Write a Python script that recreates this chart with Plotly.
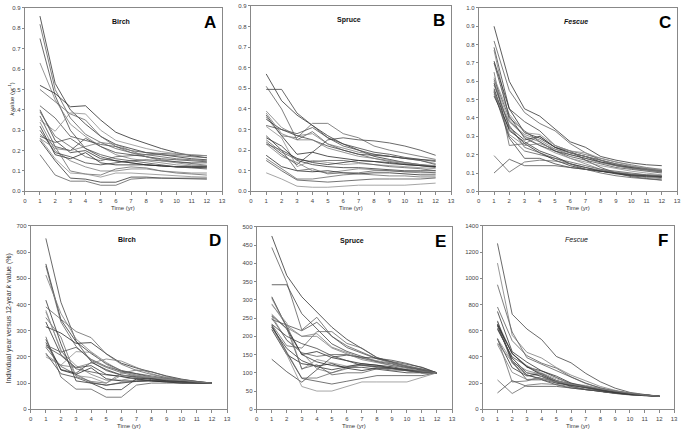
import plotly.graph_objects as go

W, H = 685, 434
YEARS = list(range(1, 13))

BIRCH_K = [
    [0.86, 0.53, 0.40, 0.33, 0.27, 0.23, 0.21, 0.19, 0.18, 0.17, 0.16, 0.155],
    [0.82, 0.50, 0.36, 0.28, 0.24, 0.21, 0.19, 0.18, 0.17, 0.16, 0.155, 0.15],
    [0.75, 0.47, 0.30, 0.21, 0.17, 0.15, 0.14, 0.13, 0.125, 0.12, 0.118, 0.115],
    [0.63, 0.45, 0.33, 0.27, 0.22, 0.18, 0.16, 0.15, 0.14, 0.13, 0.125, 0.123],
    [0.52, 0.48, 0.415, 0.42, 0.35, 0.29, 0.26, 0.235, 0.21, 0.19, 0.175, 0.165],
    [0.50, 0.44, 0.38, 0.35, 0.27, 0.22, 0.19, 0.17, 0.155, 0.145, 0.135, 0.128],
    [0.42, 0.36, 0.27, 0.25, 0.23, 0.22, 0.20, 0.19, 0.185, 0.18, 0.178, 0.175],
    [0.35, 0.295, 0.385, 0.38, 0.30, 0.25, 0.23, 0.21, 0.195, 0.185, 0.18, 0.175],
    [0.40, 0.25, 0.19, 0.20, 0.16, 0.15, 0.14, 0.13, 0.125, 0.12, 0.12, 0.12],
    [0.39, 0.27, 0.22, 0.17, 0.15, 0.17, 0.175, 0.18, 0.18, 0.175, 0.17, 0.165],
    [0.37, 0.22, 0.20, 0.26, 0.22, 0.19, 0.18, 0.17, 0.16, 0.155, 0.15, 0.145],
    [0.34, 0.20, 0.15, 0.12, 0.10, 0.10, 0.11, 0.11, 0.10, 0.095, 0.09, 0.09],
    [0.32, 0.18, 0.16, 0.19, 0.14, 0.13, 0.13, 0.13, 0.125, 0.12, 0.12, 0.12],
    [0.28, 0.22, 0.10, 0.085, 0.08, 0.11, 0.12, 0.115, 0.10, 0.09, 0.085, 0.08],
    [0.27, 0.24, 0.26, 0.21, 0.18, 0.16, 0.15, 0.14, 0.13, 0.12, 0.115, 0.11],
    [0.26, 0.16, 0.09, 0.085, 0.07, 0.09, 0.09, 0.085, 0.08, 0.075, 0.072, 0.07],
    [0.25, 0.15, 0.065, 0.06, 0.045, 0.045, 0.07, 0.07, 0.065, 0.063, 0.062, 0.06],
    [0.18, 0.08, 0.05, 0.05, 0.03, 0.03, 0.06, 0.065, 0.065, 0.065, 0.065, 0.065],
    [0.30, 0.19, 0.17, 0.14, 0.13, 0.14, 0.15, 0.155, 0.15, 0.145, 0.14, 0.14],
    [0.26, 0.21, 0.20, 0.22, 0.24, 0.23, 0.20, 0.17, 0.15, 0.14, 0.13, 0.125],
]

SPRUCE_K = [
    [0.57, 0.44, 0.37, 0.32, 0.27, 0.23, 0.20, 0.17, 0.155, 0.14, 0.13, 0.12],
    [0.51, 0.40, 0.25, 0.29, 0.23, 0.20, 0.18, 0.16, 0.145, 0.135, 0.125, 0.115],
    [0.495, 0.495, 0.38, 0.32, 0.26, 0.23, 0.21, 0.19, 0.18, 0.165, 0.155, 0.145],
    [0.39, 0.31, 0.27, 0.28, 0.23, 0.21, 0.19, 0.18, 0.17, 0.16, 0.15, 0.135],
    [0.37, 0.27, 0.18, 0.19, 0.17, 0.16, 0.15, 0.145, 0.14, 0.13, 0.125, 0.12],
    [0.36, 0.27, 0.26, 0.33, 0.33, 0.28, 0.26, 0.22, 0.20, 0.185, 0.17, 0.155],
    [0.32, 0.30, 0.28, 0.31, 0.26, 0.22, 0.20, 0.18, 0.17, 0.16, 0.15, 0.13],
    [0.315, 0.26, 0.12, 0.15, 0.14, 0.13, 0.135, 0.13, 0.125, 0.12, 0.115, 0.11],
    [0.26, 0.22, 0.15, 0.13, 0.12, 0.115, 0.115, 0.11, 0.105, 0.10, 0.10, 0.10],
    [0.25, 0.19, 0.155, 0.145, 0.15, 0.15, 0.14, 0.13, 0.12, 0.115, 0.11, 0.10],
    [0.24, 0.18, 0.13, 0.19, 0.25, 0.26, 0.25, 0.245, 0.235, 0.22, 0.20, 0.175],
    [0.23, 0.17, 0.14, 0.10, 0.09, 0.10, 0.11, 0.105, 0.10, 0.095, 0.09, 0.09],
    [0.175, 0.12, 0.10, 0.095, 0.10, 0.09, 0.085, 0.09, 0.09, 0.085, 0.08, 0.08],
    [0.16, 0.11, 0.06, 0.06, 0.07, 0.08, 0.085, 0.08, 0.075, 0.075, 0.07, 0.07],
    [0.15, 0.10, 0.055, 0.05, 0.045, 0.05, 0.055, 0.06, 0.06, 0.06, 0.06, 0.065],
    [0.09, 0.06, 0.025, 0.02, 0.02, 0.025, 0.03, 0.03, 0.03, 0.03, 0.035, 0.04],
    [0.27, 0.20, 0.16, 0.14, 0.13, 0.14, 0.15, 0.145, 0.135, 0.13, 0.125, 0.12],
    [0.23, 0.20, 0.10, 0.11, 0.085, 0.09, 0.09, 0.10, 0.10, 0.095, 0.095, 0.09],
    [0.35, 0.30, 0.27, 0.25, 0.22, 0.20, 0.18, 0.175, 0.17, 0.16, 0.155, 0.15],
    [0.38, 0.28, 0.25, 0.25, 0.21, 0.19, 0.17, 0.16, 0.15, 0.14, 0.13, 0.125],
]

FESCUE_K = [
    [0.90, 0.60, 0.45, 0.41, 0.34, 0.27, 0.24, 0.19, 0.17, 0.155, 0.145, 0.14],
    [0.82, 0.55, 0.43, 0.37, 0.33, 0.26, 0.21, 0.17, 0.14, 0.125, 0.115, 0.105],
    [0.785, 0.45, 0.38, 0.33, 0.25, 0.22, 0.17, 0.13, 0.10, 0.08, 0.07, 0.062],
    [0.77, 0.39, 0.30, 0.27, 0.22, 0.18, 0.15, 0.12, 0.10, 0.085, 0.075, 0.069],
    [0.71, 0.45, 0.32, 0.29, 0.24, 0.21, 0.19, 0.17, 0.15, 0.135, 0.125, 0.115],
    [0.65, 0.25, 0.26, 0.30, 0.24, 0.22, 0.20, 0.18, 0.16, 0.145, 0.13, 0.12],
    [0.61, 0.40, 0.33, 0.27, 0.22, 0.19, 0.17, 0.15, 0.13, 0.12, 0.11, 0.10],
    [0.60, 0.38, 0.30, 0.25, 0.21, 0.18, 0.16, 0.14, 0.125, 0.11, 0.10, 0.09],
    [0.59, 0.35, 0.28, 0.30, 0.24, 0.21, 0.19, 0.16, 0.14, 0.13, 0.12, 0.11],
    [0.55, 0.30, 0.22, 0.20, 0.18, 0.16, 0.14, 0.12, 0.11, 0.10, 0.09, 0.085],
    [0.54, 0.29, 0.18, 0.18, 0.15, 0.13, 0.12, 0.11, 0.10, 0.09, 0.085, 0.08],
    [0.53, 0.38, 0.31, 0.28, 0.23, 0.20, 0.18, 0.155, 0.14, 0.125, 0.115, 0.105],
    [0.52, 0.34, 0.26, 0.21, 0.17, 0.14, 0.12, 0.11, 0.10, 0.09, 0.085, 0.08],
    [0.195, 0.105, 0.16, 0.17, 0.165, 0.15, 0.13, 0.115, 0.105, 0.095, 0.09, 0.087],
    [0.10, 0.175, 0.14, 0.14, 0.14, 0.13, 0.12, 0.11, 0.10, 0.09, 0.085, 0.08],
    [0.62, 0.42, 0.32, 0.31, 0.25, 0.22, 0.21, 0.18, 0.16, 0.14, 0.125, 0.115],
    [0.56, 0.33, 0.27, 0.22, 0.19, 0.15, 0.13, 0.11, 0.095, 0.085, 0.08, 0.075],
    [0.58, 0.36, 0.24, 0.21, 0.18, 0.15, 0.12, 0.10, 0.085, 0.075, 0.066, 0.061],
    [0.70, 0.41, 0.29, 0.25, 0.22, 0.20, 0.18, 0.16, 0.145, 0.13, 0.12, 0.11],
    [0.545, 0.31, 0.25, 0.26, 0.23, 0.21, 0.19, 0.17, 0.15, 0.135, 0.12, 0.11],
]

# panels D-F: each year's k as % of the 12-year k value of the same series
def pct_of_year12(series):
    return [[v / s[-1] * 100 for v in s] for s in series]

BIRCH_PCT = pct_of_year12(BIRCH_K)
SPRUCE_PCT = pct_of_year12(SPRUCE_K)
FESCUE_PCT = pct_of_year12(FESCUE_K)

X_TICKS = list(range(0, 14))

FONT = "Arial, 'Liberation Sans', sans-serif"
LINE_COLORS = ["#333333", "#5e5e5e", "#444444", "#7c7c7c", "#2a2a2a",
               "#686868", "#505050", "#8e8e8e"]

# panel pixel boxes: left, right, top, bottom
panels = [
    dict(data=BIRCH_K,   box=(23, 222, 5, 191),   yr=[0, 0.9], dt=0.1, fmt=".1f",
         name="<b>Birch</b>", letter="A"),
    dict(data=SPRUCE_K,  box=(251, 453, 3, 191),  yr=[0, 0.9], dt=0.1, fmt=".1f",
         name="<b>Spruce</b>", letter="B"),
    dict(data=FESCUE_K,  box=(481, 681, 5, 191),  yr=[0, 1.0], dt=0.1, fmt=".1f",
         name="<b><i>Fescue</i></b>", letter="C"),
    dict(data=BIRCH_PCT, box=(29, 227, 226, 412), yr=[0, 700], dt=100, fmt="d",
         name="<b>Birch</b>", letter="D"),
    dict(data=SPRUCE_PCT, box=(257, 454, 227, 412), yr=[0, 500], dt=50, fmt="d",
         name="<b>Spruce</b>", letter="E"),
    dict(data=FESCUE_PCT, box=(485, 678, 226, 412), yr=[0, 1400], dt=200, fmt="d",
         name="<i>Fescue</i>", letter="F"),
]

fig = go.Figure()
annotations = []
layout_axes = {}

for i, p in enumerate(panels):
    n = i + 1
    suf = "" if n == 1 else str(n)
    l, r, t, b = p["box"]
    layout_axes["xaxis" + suf] = dict(
        domain=[l / W, r / W], range=[0, 13], anchor="y" + suf,
        tickmode="array", tickvals=X_TICKS, ticks="outside", ticklen=3,
        tickwidth=1, tickcolor="#888888", showline=True, linecolor="#888888",
        linewidth=1, mirror=True, showgrid=False, zeroline=False,
        tickfont=dict(family=FONT, size=6, color="#444444"),
    )
    layout_axes["yaxis" + suf] = dict(
        domain=[1 - b / H, 1 - t / H], range=p["yr"], anchor="x" + suf,
        dtick=p["dt"], tick0=0, tickformat=p["fmt"], ticks="outside", ticklen=2,
        tickwidth=1, tickcolor="#888888", showline=True, linecolor="#888888",
        linewidth=1, mirror=True, showgrid=False, zeroline=False,
        tickfont=dict(family=FONT, size=6, color="#444444"),
    )
    for j, s in enumerate(p["data"]):
        fig.add_trace(go.Scatter(
            x=YEARS, y=s, mode="lines", xaxis="x" + suf, yaxis="y" + suf,
            line=dict(color=LINE_COLORS[j % len(LINE_COLORS)], width=0.8),
            showlegend=False, hoverinfo="skip",
        ))
    cx = (l + r) / 2
    # species name
    annotations.append(dict(
        x=(cx - 2) / W, y=1 - (t + 14) / H, xref="paper", yref="paper",
        text=p["name"], showarrow=False, xanchor="center", yanchor="middle",
        font=dict(family=FONT, size=7, color="#111111"),
    ))
    # panel letter
    annotations.append(dict(
        x=(r - 4) / W, y=1 - (t + 3) / H, xref="paper", yref="paper",
        text="<b>" + p["letter"] + "</b>", showarrow=False,
        xanchor="right", yanchor="top",
        font=dict(family=FONT, size=17, color="#000000"),
    ))
    # x axis title
    annotations.append(dict(
        x=cx / W, y=1 - (b + 17) / H, xref="paper", yref="paper",
        text="Time (yr)", showarrow=False, xanchor="center", yanchor="middle",
        font=dict(family=FONT, size=6, color="#333333"),
    ))

annotations.append(dict(
    x=9 / W, y=1 - 97 / H, xref="paper", yref="paper",
    text="<i>k</i> value (yr<sup>-1</sup>)", showarrow=False, textangle=-90,
    xanchor="center", yanchor="middle",
    font=dict(family=FONT, size=6, color="#333333"),
))
annotations.append(dict(
    x=7 / W, y=1 - 320 / H, xref="paper", yref="paper",
    text="Individual year versus 12-year <i>k</i> value (%)", showarrow=False,
    textangle=-90, xanchor="center", yanchor="middle",
    font=dict(family=FONT, size=7, color="#333333"),
))

fig.update_layout(
    width=W, height=H, margin=dict(l=0, r=0, t=0, b=0),
    paper_bgcolor="white", plot_bgcolor="white",
    annotations=annotations, **layout_axes,
)

fig.write_html(
    "out.html",
    config={"displayModeBar": False, "staticPlot": True},
    post_script="document.body.style.margin='0px';document.body.style.overflow='hidden';",
)
